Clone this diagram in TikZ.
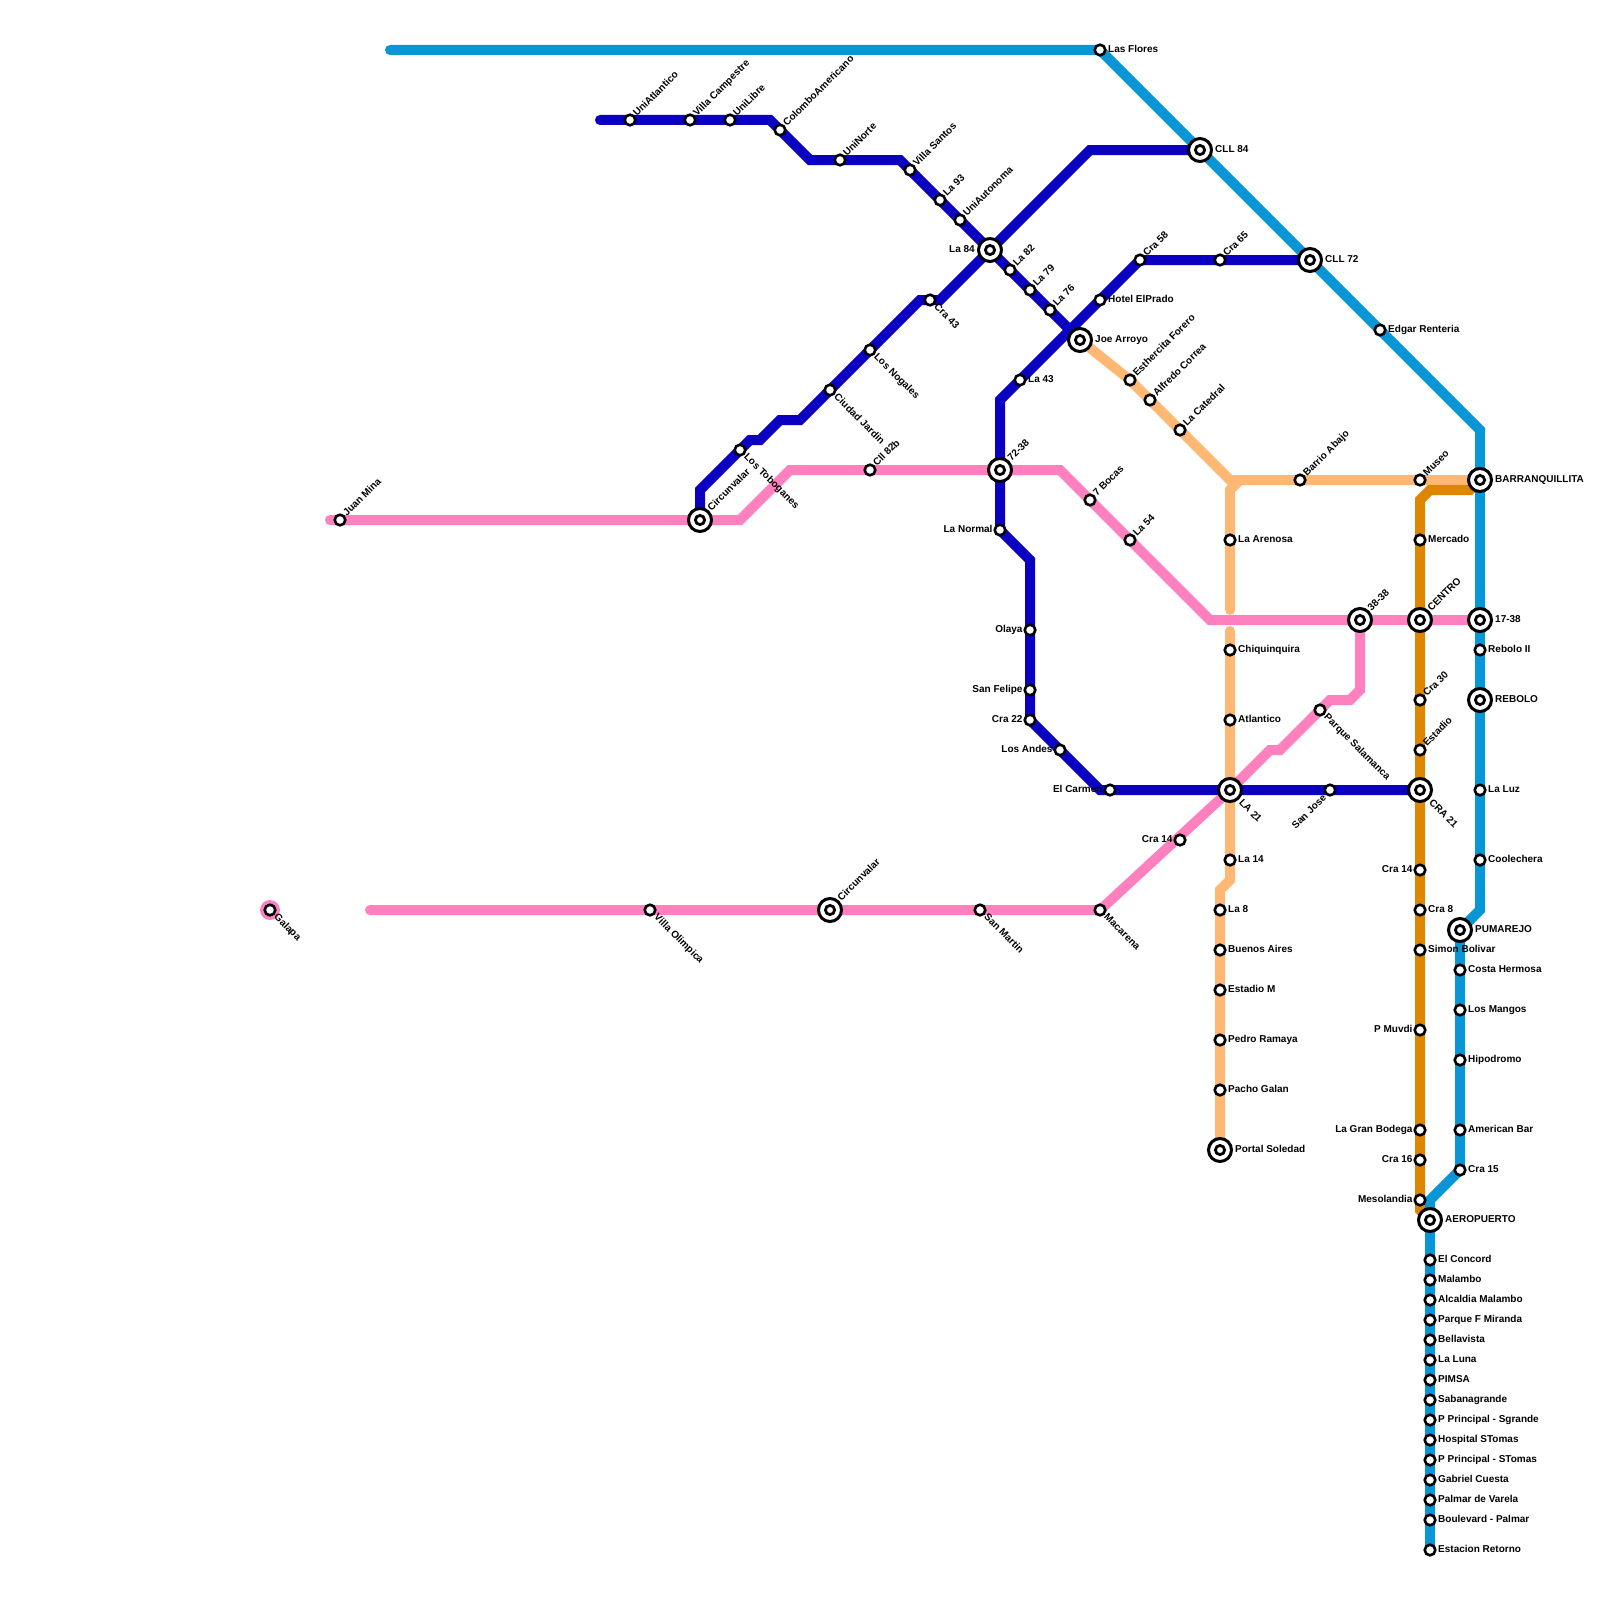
\documentclass[tikz,border=0pt]{standalone}
\usepackage{fontspec}
\setmainfont{Liberation Sans}
\usetikzlibrary{backgrounds}
\definecolor{metroblue}{HTML}{0896D7}
\definecolor{metronavy}{HTML}{0B00C1}
\definecolor{metropink}{HTML}{FF80BF}
\definecolor{metropeach}{HTML}{FFB873}
\definecolor{metroamber}{HTML}{DF8600}
\begin{document}
\begin{tikzpicture}[
  x=1pt, y=-1pt,
  txt/.style={font=\fontsize{10}{12}\selectfont\bfseries, inner sep=0pt, text=black},
  stn/.style={circle, draw=black, fill=white, line width=2.6pt, minimum size=10.6pt, inner sep=0pt},
  hub/.style={circle, draw=black, fill=white, line width=3pt, minimum size=23pt, inner sep=0pt,
    path picture={\draw[line width=2.8pt, fill=white] (path picture bounding box.center) circle (4.6pt);}},
  route/.style={line width=10pt, line cap=round},
  tr/.style={append after command={node[txt, anchor=base west, xshift=8pt, yshift=-2.5pt] (\tikzlastnode t) at (\tikzlastnode.center) {#1}}},
  tl/.style={append after command={node[txt, anchor=base east, xshift=-7.3pt, yshift=-2.5pt] (\tikzlastnode t) at (\tikzlastnode.center) {#1}}},
  tne/.style={append after command={node[txt, anchor=base west, xshift=7pt, yshift=3pt, rotate=45] (\tikzlastnode t) at (\tikzlastnode.center) {#1}}},
  tse/.style={append after command={node[txt, anchor=base west, xshift=3.5pt, yshift=-7.5pt, rotate=-45] (\tikzlastnode t) at (\tikzlastnode.center) {#1}}},
  tsw/.style={append after command={node[txt, anchor=base east, xshift=-3pt, yshift=-8.5pt, rotate=45] (\tikzlastnode t) at (\tikzlastnode.center) {#1}}},
  br/.style={append after command={node[txt, anchor=base west, xshift=15pt, yshift=-2.5pt] (\tikzlastnode t) at (\tikzlastnode.center) {#1}}},
  bl/.style={append after command={node[txt, anchor=base east, xshift=-15pt, yshift=-2.5pt] (\tikzlastnode t) at (\tikzlastnode.center) {#1}}},
  bne/.style={append after command={node[txt, anchor=base west, xshift=11.5pt, yshift=8.5pt, rotate=45] (\tikzlastnode t) at (\tikzlastnode.center) {#1}}},
  bse/.style={append after command={node[txt, anchor=base west, xshift=8.5pt, yshift=-13.5pt, rotate=-45] (\tikzlastnode t) at (\tikzlastnode.center) {#1}}}
]
\useasboundingbox (0,0) rectangle (1600,1600);

\coordinate (bluestart) at (390,50);
\coordinate (blueA) at (1480,430);
\coordinate (blueB) at (1480,910);
\coordinate (blueC) at (1430,1200);
\coordinate (navyA0) at (600,120);
\coordinate (navyA1) at (770,120);
\coordinate (navyA2) at (810,160);
\coordinate (navyA3) at (900,160);
\coordinate (navyA4) at (1070,330);
\coordinate (navyB1) at (700,490);
\coordinate (navyB2) at (750,440);
\coordinate (navyB3) at (760,440);
\coordinate (navyB4) at (780,420);
\coordinate (navyB5) at (800,420);
\coordinate (navyB6) at (920,300);
\coordinate (navyB7) at (940,300);
\coordinate (navyB8) at (1090,150);
\coordinate (navyC1) at (1000,400);
\coordinate (navyC2) at (1030,560);
\coordinate (navyC3) at (1100,790);
\coordinate (pinkA0) at (330,520);
\coordinate (pinkA1) at (740,520);
\coordinate (pinkA2) at (790,470);
\coordinate (pinkA3) at (1060,470);
\coordinate (pinkA4) at (1210,620);
\coordinate (pinkB0) at (370,910);
\coordinate (pinkB2) at (1270,750);
\coordinate (pinkB3) at (1280,750);
\coordinate (pinkB4) at (1330,700);
\coordinate (pinkB5) at (1350,700);
\coordinate (pinkB6) at (1360,690);
\coordinate (peachA) at (1230,480);
\coordinate (peachB) at (1240,480);
\coordinate (peachC) at (1230,490);
\coordinate (peachD) at (1230,610);
\coordinate (peachE) at (1230,631);
\coordinate (peachF) at (1230,880);
\coordinate (peachG) at (1220,890);
\coordinate (amberA) at (1470,490);
\coordinate (amberB) at (1430,490);
\coordinate (amberC) at (1420,500);
\coordinate (amberD) at (1420,1210);

\node[stn, tr={Las Flores}] (lasflores) at (1100,50) {};
\node[hub, br={CLL 84}] (cll84) at (1200,150) {};
\node[hub, br={CLL 72}] (cll72) at (1310,260) {};
\node[stn, tr={Edgar Renteria}] (edgar) at (1380,330) {};
\node[hub, br={BARRANQUILLITA}] (barranquillita) at (1480,480) {};
\node[hub, br={17-38}] (p1738) at (1480,620) {};
\node[stn, tr={Rebolo II}] (reboloii) at (1480,650) {};
\node[hub, br={REBOLO}] (rebolo) at (1480,700) {};
\node[stn, tr={La Luz}] (laluz) at (1480,790) {};
\node[stn, tr={Coolechera}] (coolechera) at (1480,860) {};
\node[hub, br={PUMAREJO}] (pumarejo) at (1460,930) {};
\node[stn, tr={Costa Hermosa}] (costa) at (1460,970) {};
\node[stn, tr={Los Mangos}] (mangos) at (1460,1010) {};
\node[stn, tr={Hipodromo}] (hipodromo) at (1460,1060) {};
\node[stn, tr={American Bar}] (american) at (1460,1130) {};
\node[stn, tr={Cra 15}] (cra15) at (1460,1170) {};
\node[hub, br={AEROPUERTO}] (aeropuerto) at (1430,1220) {};
\node[stn, tr={El Concord}] (concord) at (1430,1260) {};
\node[stn, tr={Malambo}] (malambo) at (1430,1280) {};
\node[stn, tr={Alcaldia Malambo}] (alcaldia) at (1430,1300) {};
\node[stn, tr={Parque F Miranda}] (miranda) at (1430,1320) {};
\node[stn, tr={Bellavista}] (bellavista) at (1430,1340) {};
\node[stn, tr={La Luna}] (laluna) at (1430,1360) {};
\node[stn, tr={PIMSA}] (pimsa) at (1430,1380) {};
\node[stn, tr={Sabanagrande}] (sabana) at (1430,1400) {};
\node[stn, tr={P Principal - Sgrande}] (psgrande) at (1430,1420) {};
\node[stn, tr={Hospital STomas}] (hospital) at (1430,1440) {};
\node[stn, tr={P Principal - STomas}] (pstomas) at (1430,1460) {};
\node[stn, tr={Gabriel Cuesta}] (gabriel) at (1430,1480) {};
\node[stn, tr={Palmar de Varela}] (palmar) at (1430,1500) {};
\node[stn, tr={Boulevard - Palmar}] (boulevard) at (1430,1520) {};
\node[stn, tr={Estacion Retorno}] (retorno) at (1430,1550) {};

\node[stn, tne={UniAtlantico}] (uniatlantico) at (630,120) {};
\node[stn, tne={Villa Campestre}] (campestre) at (690,120) {};
\node[stn, tne={UniLibre}] (unilibre) at (730,120) {};
\node[stn, tne={ColomboAmericano}] (colombo) at (780,130) {};
\node[stn, tne={UniNorte}] (uninorte) at (840,160) {};
\node[stn, tne={Villa Santos}] (santos) at (910,170) {};
\node[stn, tne={La 93}] (la93) at (940,200) {};
\node[stn, tne={UniAutonoma}] (autonoma) at (960,220) {};
\node[hub, bl={La 84}] (la84) at (990,250) {};
\node[stn, tne={La 82}] (la82) at (1010,270) {};
\node[stn, tne={La 79}] (la79) at (1030,290) {};
\node[stn, tne={La 76}] (la76) at (1050,310) {};

\node[hub, bne={Circunvalar}] (circunvalarN) at (700,520) {};
\node[stn, tse={Los Toboganes}] (toboganes) at (740,450) {};
\node[stn, tse={Ciudad Jardin}] (jardin) at (830,390) {};
\node[stn, tse={Los Nogales}] (nogales) at (870,350) {};
\node[stn, tse={Cra 43}] (cra43) at (930,300) {};

\node[stn, tne={Cra 65}] (cra65) at (1220,260) {};
\node[stn, tne={Cra 58}] (cra58) at (1140,260) {};
\node[stn, tr={Hotel ElPrado}] (prado) at (1100,300) {};
\node[stn, tr={La 43}] (la43) at (1020,380) {};
\node[hub, bne={72-38}] (p7238) at (1000,470) {};
\node[stn, tl={La Normal}] (normal) at (1000,530) {};
\node[stn, tl={Olaya}] (olaya) at (1030,630) {};
\node[stn, tl={San Felipe}] (felipe) at (1030,690) {};
\node[stn, tl={Cra 22}] (cra22) at (1030,720) {};
\node[stn, tl={Los Andes}] (andes) at (1060,750) {};
\node[stn, tl={El Carmen}] (carmen) at (1110,790) {};
\node[hub, bse={LA 21}] (la21) at (1230,790) {};
\node[stn, tsw={San Jose}] (sanjose) at (1330,790) {};
\node[hub, bse={CRA 21}] (cra21) at (1420,790) {};

\node[stn, tne={Juan Mina}] (juanmina) at (340,520) {};
\node[stn, tne={Cll 82b}] (cll82b) at (870,470) {};
\node[stn, tne={7 Bocas}] (bocas) at (1090,500) {};
\node[stn, tne={La 54}] (la54) at (1130,540) {};
\node[hub, bne={38-38}] (p3838) at (1360,620) {};
\node[hub, bne={CENTRO}] (centro) at (1420,620) {};
\node[stn, tse={Villa Olimpica}] (olimpica) at (650,910) {};
\node[hub, bne={Circunvalar}] (circunvalarS) at (830,910) {};
\node[stn, tse={San Martin}] (sanmartin) at (980,910) {};
\node[stn, tse={Macarena}] (macarena) at (1100,910) {};
\node[stn, tl={Cra 14}] (cra14p) at (1180,840) {};
\node[stn, tse={Parque Salamanca}] (salamanca) at (1320,710) {};
\node[circle, fill=metropink, minimum size=20pt, inner sep=0pt] (galapadot) at (270,910) {};
\node[stn, tse={Galapa}] (galapa) at (270,910) {};

\node[hub, br={Joe Arroyo}] (joe) at (1080,340) {};
\node[stn, tne={Esthercita Forero}] (esthercita) at (1130,380) {};
\node[stn, tne={Alfredo Correa}] (alfredo) at (1150,400) {};
\node[stn, tne={La Catedral}] (catedral) at (1180,430) {};
\node[stn, tne={Barrio Abajo}] (abajo) at (1300,480) {};
\node[stn, tne={Museo}] (museo) at (1420,480) {};
\node[stn, tr={La Arenosa}] (arenosa) at (1230,540) {};
\node[stn, tr={Chiquinquira}] (chiquinquira) at (1230,650) {};
\node[stn, tr={Atlantico}] (atlantico) at (1230,720) {};
\node[stn, tr={La 14}] (la14) at (1230,860) {};
\node[stn, tr={La 8}] (la8) at (1220,910) {};
\node[stn, tr={Buenos Aires}] (buenos) at (1220,950) {};
\node[stn, tr={Estadio M}] (estadiom) at (1220,990) {};
\node[stn, tr={Pedro Ramaya}] (ramaya) at (1220,1040) {};
\node[stn, tr={Pacho Galan}] (pacho) at (1220,1090) {};
\node[hub, br={Portal Soledad}] (soledad) at (1220,1150) {};

\node[stn, tr={Mercado}] (mercado) at (1420,540) {};
\node[stn, tne={Cra 30}] (cra30) at (1420,700) {};
\node[stn, tne={Estadio}] (estadio) at (1420,750) {};
\node[stn, tl={Cra 14}] (cra14a) at (1420,870) {};
\node[stn, tr={Cra 8}] (cra8) at (1420,910) {};
\node[stn, tr={Simon Bolivar}] (bolivar) at (1420,950) {};
\node[stn, tl={P Muvdi}] (muvdi) at (1420,1030) {};
\node[stn, tl={La Gran Bodega}] (bodega) at (1420,1130) {};
\node[stn, tl={Cra 16}] (cra16) at (1420,1160) {};
\node[stn, tl={Mesolandia}] (mesolandia) at (1420,1200) {};

\begin{scope}[on background layer]
\draw[route, metropeach] (joe.center) -- (esthercita.center) -- (peachA) -- (barranquillita.center);
\draw[route, metropeach] (peachB) -- (peachC) -- (peachD);
\draw[route, metropeach] (peachE) -- (peachF) -- (peachG) -- (soledad.center);
\draw[route, metroamber] (barranquillita.center) -- (amberA) -- (amberB) -- (amberC) -- (amberD) -- (aeropuerto.center);
\draw[route, metroblue] (bluestart) -- (lasflores.center) -- (blueA) -- (blueB) -- (pumarejo.center) -- (cra15.center) -- (blueC) -- (retorno.center);
\draw[route, metronavy] (navyA0) -- (navyA1) -- (navyA2) -- (navyA3) -- (navyA4);
\draw[route, metronavy] (circunvalarN.center) -- (navyB1) -- (navyB2) -- (navyB3) -- (navyB4) -- (navyB5) -- (navyB6) -- (navyB7) -- (navyB8) -- (cll84.center);
\draw[route, metronavy] (cll72.center) -- (cra58.center) -- (navyC1) -- (normal.center) -- (navyC2) -- (cra22.center) -- (navyC3) -- (cra21.center);
\draw[route, metropink] (pinkA0) -- (pinkA1) -- (pinkA2) -- (pinkA3) -- (pinkA4) -- (p1738.center);
\draw[route, metropink] (pinkB0) -- (macarena.center) -- (la21.center) -- (pinkB2) -- (pinkB3) -- (pinkB4) -- (pinkB5) -- (pinkB6) -- (p3838.center);
\end{scope}
\end{tikzpicture}
\end{document}
